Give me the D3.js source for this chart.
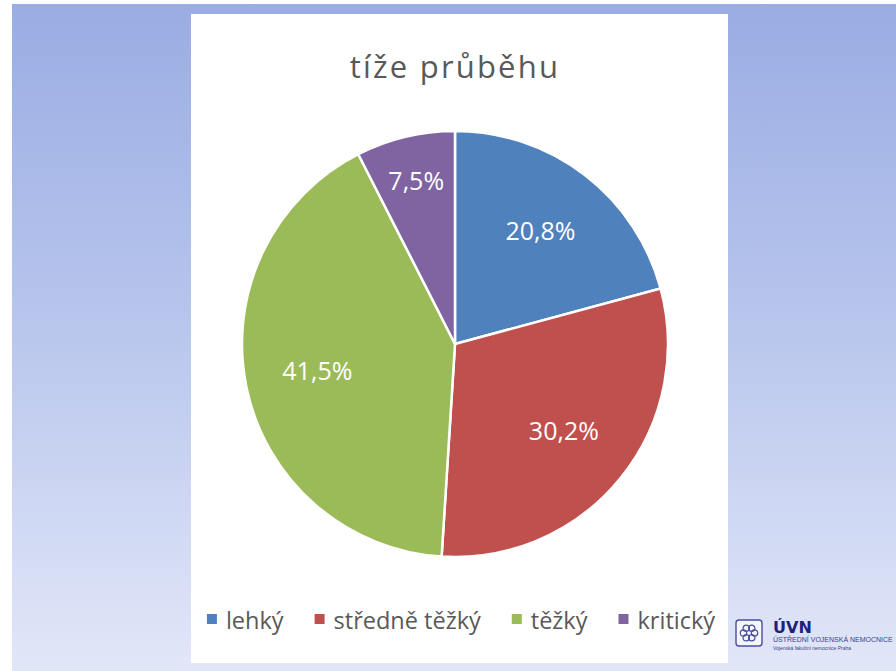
<!DOCTYPE html>
<html>
<head>
<meta charset="utf-8">
<script src="https://cdn.jsdelivr.net/npm/d3@7"></script>
<style>
  body { margin: 0; background: #fff; }
  svg { display: block; }
</style>
</head>
<body>
<div id="chart"></div>
<script>
// data
const categories = ["lehký", "středně těžký", "těžký", "kritický"];
const values = [20.8, 30.2, 41.5, 7.5];
const labels = ["20,8%", "30,2%", "41,5%", "7,5%"];
const colors = ["#4f81bd", "#c0504d", "#9bbb59", "#8064a2"];
const title = "tíže průběhu";

const W = 896, H = 671;
const panel = { x: 191, y: 14, w: 537, h: 649 };
const cx = 455, cy = 344, radius = 213;

const svg = d3.select("#chart")
  .append("svg")
    .attr("width", W)
    .attr("height", H);

// slide background gradient
const defs = svg.append("defs");
const grad = defs.append("linearGradient")
    .attr("id", "bg")
    .attr("x1", 0).attr("y1", 0)
    .attr("x2", 0).attr("y2", 1);
grad.append("stop").attr("offset", "0%").attr("stop-color", "#9aace3");
grad.append("stop").attr("offset", "45%").attr("stop-color", "#b6c4ec");
grad.append("stop").attr("offset", "100%").attr("stop-color", "#e2e7f8");

svg.append("rect")
  .attr("x", 12).attr("y", 4)
  .attr("width", W - 12).attr("height", H - 4)
  .attr("fill", "url(#bg)");

// chart panel
svg.append("rect")
  .attr("x", panel.x).attr("y", panel.y)
  .attr("width", panel.w).attr("height", panel.h)
  .attr("fill", "#fff");

// title
svg.append("text")
  .attr("x", 455)
  .attr("y", 78)
  .attr("text-anchor", "middle")
  .attr("font-family", "Open Sans, sans-serif")
  .attr("font-size", 31)
  .attr("letter-spacing", 2.2)
  .attr("fill", "#595959")
  .text(title);

// pie
const pie = d3.pie().sort(null).value(d => d)(values);
const arc = d3.arc().innerRadius(0).outerRadius(radius);

const g = svg.append("g")
  .attr("transform", `translate(${cx},${cy})`);

g.selectAll("path")
  .data(pie)
  .join("path")
    .attr("d", arc)
    .attr("fill", (d, i) => colors[i])
    .attr("stroke", "#fff")
    .attr("stroke-width", 2.5)
    .attr("stroke-linejoin", "round");

// data labels, small slices pushed outwards
const labelArc = d => {
  const r = d.data < 10 ? radius * 0.78 : radius * 0.66;
  return d3.arc().innerRadius(r).outerRadius(r).centroid(d);
};

g.selectAll("text.lbl")
  .data(pie)
  .join("text")
    .attr("class", "lbl")
    .attr("x", d => labelArc(d)[0])
    .attr("y", d => labelArc(d)[1])
    .attr("dy", "0.3em")
    .attr("text-anchor", "middle")
    .attr("font-family", "Open Sans, sans-serif")
    .attr("font-size", 25)
    .attr("fill", "#fff")
    .text((d, i) => labels[i]);

// legend
const legend = svg.append("g");
const items = legend.selectAll("g")
  .data(categories)
  .join("g");

items.append("rect")
  .attr("width", 10).attr("height", 10)
  .attr("y", -15)
  .attr("fill", (d, i) => colors[i]);

items.append("text")
  .attr("x", 19)
  .attr("y", 0)
  .attr("font-family", "Open Sans, sans-serif")
  .attr("font-size", 23.5)
  .attr("fill", "#595959")
  .text(d => d);

let xpos = 0;
items.each(function() {
  const t = d3.select(this).select("text").node().getComputedTextLength();
  d3.select(this).attr("transform", `translate(${xpos},0)`);
  xpos += 19 + t + 31;
});
const legendW = xpos - 31;
legend.attr("transform", `translate(${461 - legendW / 2},629)`);

// hospital logo, bottom right
const logo = svg.append("g").attr("transform", "translate(736,620)");
logo.append("rect")
  .attr("width", 26).attr("height", 26)
  .attr("rx", 3)
  .attr("fill", "#f4f6fc")
  .attr("stroke", "#4a4f9a")
  .attr("stroke-width", 1.4);
logo.append("g")
  .attr("transform", "translate(13,13)")
  .selectAll("circle")
  .data(d3.range(6))
  .join("circle")
    .attr("cx", d => 5.5 * Math.cos(d * Math.PI / 3))
    .attr("cy", d => 5.5 * Math.sin(d * Math.PI / 3))
    .attr("r", 3.2)
    .attr("fill", "none")
    .attr("stroke", "#4a4f9a")
    .attr("stroke-width", 1.2);
logo.append("text")
  .attr("x", 37).attr("y", 13)
  .attr("font-family", "DejaVu Sans, sans-serif")
  .attr("font-weight", "bold")
  .attr("font-size", 16)
  .attr("fill", "#1e2378")
  .text("ÚVN");
logo.append("text")
  .attr("x", 37).attr("y", 22)
  .attr("font-family", "Liberation Sans, sans-serif")
  .attr("font-size", 7)
  .attr("fill", "#3a3f8a")
  .text("ÚSTŘEDNÍ VOJENSKÁ NEMOCNICE");
logo.append("text")
  .attr("x", 37).attr("y", 30)
  .attr("font-family", "Liberation Sans, sans-serif")
  .attr("font-size", 5)
  .attr("fill", "#3a3f8a")
  .text("Vojenská fakultní nemocnice Praha");
</script>
</body>
</html>
